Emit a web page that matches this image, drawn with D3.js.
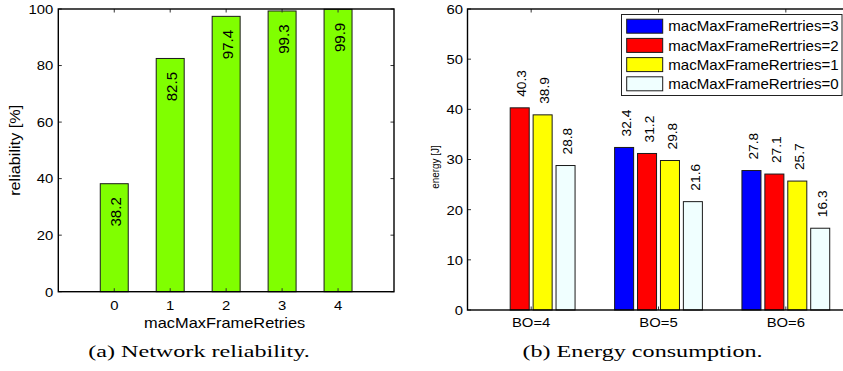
<!DOCTYPE html>
<html><head><meta charset="utf-8">
<script src="https://cdn.jsdelivr.net/npm/d3@7"></script>
<style>html,body{margin:0;padding:0;background:#fff;}svg{display:block;}</style>
</head><body>
<script>
// ---- data ----
const retries = [0, 1, 2, 3, 4];
const reliability = [38.2, 82.5, 97.4, 99.3, 99.9];
const reliabilityTicks = [0, 20, 40, 60, 80, 100];

const groups = ["BO=4", "BO=5", "BO=6"];
const seriesNames = ["macMaxFrameRertries=3", "macMaxFrameRertries=2", "macMaxFrameRertries=1", "macMaxFrameRertries=0"];
const energy3 = [0, 32.4, 27.8];
const energy2 = [40.3, 31.2, 27.1];
const energy1 = [38.9, 29.8, 25.7];
const energy0 = [28.8, 21.6, 16.3];
const energyTicks = [0, 10, 20, 30, 40, 50, 60];
const captions = ["(a) Network reliability.", "(b) Energy consumption."];

const seriesColors = ["#0000ff", "#ff0000", "#ffff00", "#f0ffff"];
const barGreen = "#80ff00";
const FONT = "'Liberation Sans', Arial, Helvetica, sans-serif";

const svg = d3.select("body").append("svg").attr("width", 843).attr("height", 371)
  .style("font-family", FONT);

function txt(g, x, y, s, o) {
  return g.append("text")
    .attr("transform", `translate(${x},${y}) rotate(${o.rot || 0}) scale(${o.k || 1},1)`)
    .attr("font-size", o.f)
    .attr("text-anchor", o.anchor || "middle")
    .attr("dy", o.dy || "0")
    .attr("fill", o.fill || "#000")
    .style("font-family", o.family || FONT)
    .text(s);
}

const TICK = 3.5;

// ---------------- Left chart ----------------
{
  const L = 58.3, R = 394, T = 9, B = 291.7;
  const x = d3.scaleLinear().domain([-1, 5]).range([L, R]);
  const y = d3.scaleLinear().domain([0, 100]).range([B, T]);
  const g = svg.append("g");
  const bw = x(0.25) - x(-0.25);

  g.selectAll("rect.bar").data(reliability).join("rect").attr("class", "bar")
    .attr("x", (d, i) => x(retries[i]) - bw / 2)
    .attr("y", d => y(d))
    .attr("width", bw)
    .attr("height", d => y(0) - y(d))
    .attr("fill", barGreen).attr("stroke", "#1a1a1a").attr("stroke-width", 1);

  reliability.forEach((d, i) => {
    txt(g, x(retries[i]) + 2, y(d) + 13.5, d.toFixed(1), {rot: -90, f: 14.5, k: 1.04, anchor: "end", dy: "0.35em"});
  });

  const tk = g.append("g").attr("stroke", "#333").attr("stroke-width", 1);
  reliabilityTicks.forEach(t => {
    tk.append("line").attr("x1", L).attr("x2", L + TICK).attr("y1", y(t)).attr("y2", y(t));
    tk.append("line").attr("x1", R).attr("x2", R - TICK).attr("y1", y(t)).attr("y2", y(t));
    txt(g, L - 5, y(t), String(t), {f: 13.5, k: 1.1, anchor: "end", dy: "0.36em"});
  });
  retries.forEach(t => {
    tk.append("line").attr("x1", x(t)).attr("x2", x(t)).attr("y1", B).attr("y2", B - TICK);
    tk.append("line").attr("x1", x(t)).attr("x2", x(t)).attr("y1", T).attr("y2", T + TICK);
    txt(g, x(t), 310, String(t), {f: 13.5, k: 1.1});
  });
  g.append("rect").attr("x", L).attr("y", T).attr("width", R - L).attr("height", B - T)
    .attr("fill", "none").attr("stroke", "#000").attr("stroke-width", 1.4);

  txt(g, (L + R) / 2 - 1.5, 328.3, "macMaxFrameRetries", {f: 14.5, k: 1.13});
  txt(g, 14.5, (T + B) / 2, "reliability [%]", {rot: -90, f: 14.5, k: 1.12, dy: "0.35em"});
}

// ---------------- Right chart ----------------
{
  const L = 467.5, R = 849.5, T = 9, B = 310;
  const x = d3.scaleLinear().domain([0.5, 3.5]).range([L, R]);
  const y = d3.scaleLinear().domain([0, 60]).range([B, T]);
  const step = x(2) - x(1);
  const inner = d3.scaleBand().domain(d3.range(4))
    .range([-0.36 * step, 0.36 * step]).paddingInner(0.17).paddingOuter(0.085);
  const g = svg.append("g");
  const series = [energy3, energy2, energy1, energy0];

  series.forEach((vals, s) => {
    vals.forEach((v, i) => {
      const cx = x(i + 1) + inner(s) + inner.bandwidth() / 2;
      g.append("rect")
        .attr("x", cx - inner.bandwidth() / 2).attr("y", y(v))
        .attr("width", inner.bandwidth()).attr("height", y(0) - y(v))
        .attr("fill", seriesColors[s]).attr("stroke", "#1a1a1a").attr("stroke-width", 1);
      if (v > 0) txt(g, cx + 2, y(v) - 11, v.toFixed(1), {rot: -90, f: 13.5, k: 1.02, anchor: "start", dy: "0.35em"});
    });
  });

  const tk = g.append("g").attr("stroke", "#333").attr("stroke-width", 1);
  energyTicks.forEach(t => {
    tk.append("line").attr("x1", L).attr("x2", L + TICK).attr("y1", y(t)).attr("y2", y(t));
    txt(g, L - 4.5, y(t), String(t), {f: 13.5, k: 1.1, anchor: "end", dy: "0.36em"});
  });
  groups.forEach((gname, i) => {
    tk.append("line").attr("x1", x(i + 1)).attr("x2", x(i + 1)).attr("y1", B).attr("y2", B - TICK);
    tk.append("line").attr("x1", x(i + 1)).attr("x2", x(i + 1)).attr("y1", T).attr("y2", T + TICK);
    txt(g, x(i + 1), 327.3, gname, {f: 13.5, k: 1.1});
  });
  g.append("rect").attr("x", L).attr("y", T).attr("width", R - L).attr("height", B - T)
    .attr("fill", "none").attr("stroke", "#000").attr("stroke-width", 1.4);

  txt(g, 435, 167, "energy [J]", {rot: -90, f: 11, k: 0.9, dy: "0.35em"});

  // legend
  const lg = g.append("g");
  lg.append("rect").attr("x", 621.5).attr("y", 14.5).attr("width", 220.5).attr("height", 81)
    .attr("fill", "#fff").attr("stroke", "#222").attr("stroke-width", 1);
  seriesNames.forEach((name, s) => {
    const cy = 26.2 + s * 19.2;
    lg.append("rect").attr("x", 626.7).attr("y", cy - 7).attr("width", 36).attr("height", 14)
      .attr("fill", seriesColors[s]).attr("stroke", "#1a1a1a").attr("stroke-width", 1);
    txt(lg, 668.3, cy, name, {f: 14.5, k: 1.04, anchor: "start", dy: "0.36em"});
  });
}

// captions
txt(svg, 199, 357, captions[0], {f: 17.5, k: 1.38, family: "'Liberation Serif', 'Times New Roman', serif"});
txt(svg, 642.5, 357, captions[1], {f: 17.5, k: 1.38, family: "'Liberation Serif', 'Times New Roman', serif"});
</script>
</body></html>
